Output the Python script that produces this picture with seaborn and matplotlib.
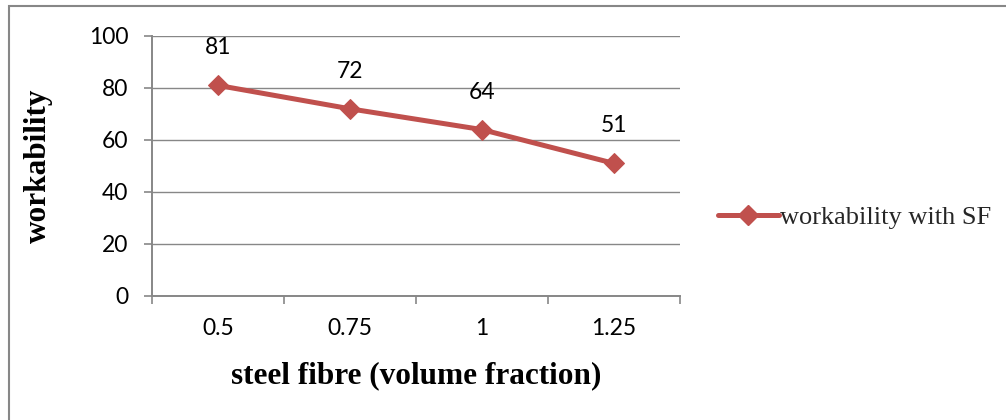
import matplotlib
matplotlib.use("Agg")
import matplotlib.pyplot as plt
import seaborn as sns
import pandas as pd
from matplotlib.patches import Rectangle
from matplotlib.lines import Line2D

categories = ["0.5", "0.75", "1", "1.25"]
workability = [81, 72, 64, 51]
series_name = "workability with SF"

sns.set_theme(style="white")
plt.rcParams['font.family'] = ['Lato', 'DejaVu Sans']

df = pd.DataFrame({"x": range(len(categories)), "y": workability})

fig = plt.figure(figsize=(10.06, 4.2), dpi=100)
ax = fig.add_axes([152/1006, 1-296/420, (680-152)/1006, (296-36)/420])

red = "#C0504D"
gray = "#878787"

sns.lineplot(data=df, x="x", y="y", ax=ax, color=red, linewidth=3.6,
             marker="D", markersize=10, markeredgecolor=red, markerfacecolor=red,
             legend=False)

ax.set_xlim(-0.5, len(categories) - 0.5)
ax.set_ylim(0, 100)
ax.set_yticks(range(0, 101, 20))
ax.yaxis.grid(True, color=gray, linewidth=1.0)
ax.set_axisbelow(True)

tick_fs = 16.5
ax.set_xticks(range(len(categories)))
ax.set_xticklabels(categories)
ax.set_xticks([i - 0.5 for i in range(len(categories) + 1)], minor=True)
ax.tick_params(axis='x', which='major', length=0, pad=16, labelsize=tick_fs, colors='black')
ax.tick_params(axis='x', which='minor', length=6, width=1.2, color=gray, direction='out', bottom=True)
ax.tick_params(axis='y', which='major', length=6, width=1.2, color=gray, direction='out', left=True,
               labelsize=tick_fs, pad=11, labelcolor='black')

for s in ['top', 'right']:
    ax.spines[s].set_visible(False)
for s in ['left', 'bottom']:
    ax.spines[s].set_color(gray)
    ax.spines[s].set_linewidth(1.4)

for i, v in enumerate(workability):
    ax.annotate(str(v), (i, v), xytext=(0, 27), textcoords='offset points',
                ha='center', va='center', fontsize=tick_fs, color='black')

ax.set_xlabel("steel fibre (volume fraction)", family=['Liberation Serif'], fontweight='bold',
              fontsize=22.5, color='black')
ax.set_ylabel("workability", family=['Liberation Serif'], fontweight='bold',
              fontsize=22.5, color='black')
ax.xaxis.set_label_coords(0.5, (296 - 376) / 260)
ax.xaxis.label.set_va('center')
ax.yaxis.set_label_coords((38 - 152) / 528, 0.5)
ax.yaxis.label.set_va('center')

handle = Line2D([0], [0], color=red, linewidth=3.6, marker="D", markersize=10,
                markeredgecolor=red, markerfacecolor=red)
fig.legend([handle], [series_name], loc='center left', bbox_to_anchor=(718/1006, 1-217/420),
           frameon=False, prop={'family': 'Liberation Serif', 'size': 19},
           handlelength=2.3, handletextpad=0.05, borderaxespad=0, borderpad=0)

fig.patches.append(Rectangle((9/1006, -0.1), 1.2, (1-6/420) + 0.1, transform=fig.transFigure,
                             fill=False, edgecolor=gray, linewidth=1.5))

fig.savefig("out.png", dpi=100)
